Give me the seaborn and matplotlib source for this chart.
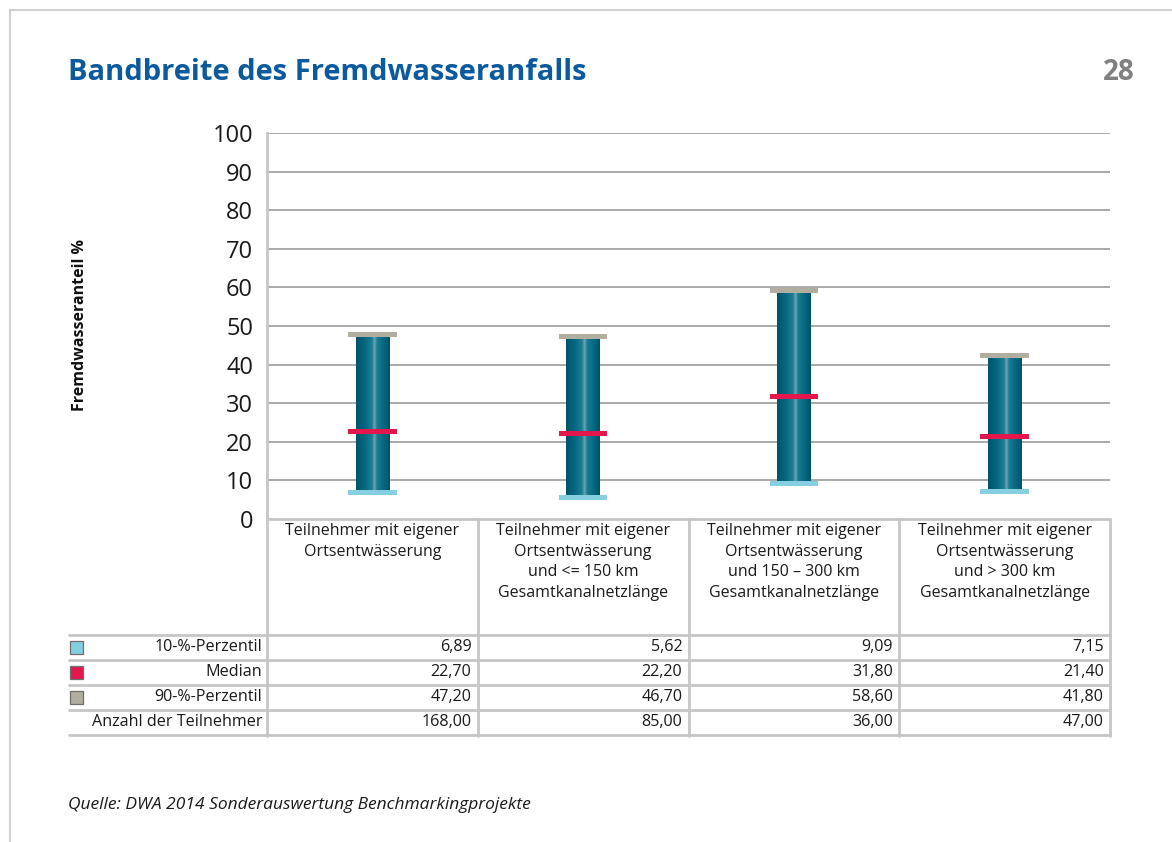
import matplotlib
matplotlib.use("Agg")
from matplotlib import pyplot as plt
from matplotlib.colors import LinearSegmentedColormap
from matplotlib.transforms import blended_transform_factory
import matplotlib.patches as mpatches
import numpy as np
import pandas as pd
import seaborn as sns

# data
groups = ["Teilnehmer mit eigener\nOrtsentwässerung",
          "Teilnehmer mit eigener\nOrtsentwässerung\nund <= 150 km\nGesamtkanalnetzlänge",
          "Teilnehmer mit eigener\nOrtsentwässerung\nund 150 – 300 km\nGesamtkanalnetzlänge",
          "Teilnehmer mit eigener\nOrtsentwässerung\nund > 300 km\nGesamtkanalnetzlänge"]
p10 = [6.89, 5.62, 9.09, 7.15]
median = [22.70, 22.20, 31.80, 21.40]
p90 = [47.20, 46.70, 58.60, 41.80]
anzahl = [168.00, 85.00, 36.00, 47.00]
row_labels = ["10-%-Perzentil", "Median", "90-%-Perzentil", "Anzahl der Teilnehmer"]
yticks = [0, 10, 20, 30, 40, 50, 60, 70, 80, 90, 100]

c_p10 = "#85cfe0"
c_med = "#e4174d"
c_p90 = "#b1ae9f"
title_blue = "#0b5a9e"
grid_c = "#a3a3a3"
line_c = "#c6c6c6"

sns.set_theme(style="white")
plt.rcParams["font.family"] = ["Open Sans", "DejaVu Sans"]

W, H = 1172, 842
fig = plt.figure(figsize=(W / 100, H / 100), dpi=100)

def fx(px):
    return px / W

def fy(py):
    return 1 - py / H

ax = fig.add_axes([fx(267), fy(519), fx(1110) - fx(267), fy(133) - fy(519)])

mark_h = 1.3  # thickness of the marker strips in data units
df = pd.DataFrame({"group": groups,
                   "low": np.array(p10) + mark_h / 2,
                   "span": np.array(p90) - np.array(p10) - mark_h / 2})

sns.barplot(data=df, x="group", y="span", bottom=df["low"], width=0.16,
            color="#005f78", linewidth=0, ax=ax, zorder=3)

# cylinder shading on the bars
cyl = LinearSegmentedColormap.from_list("cyl", [
    (0.0, "#00526c"), (0.25, "#046880"), (0.47, "#1f7d93"), (0.55, "#6aa7b6"),
    (0.62, "#1c7a90"), (0.85, "#02657e"), (1.0, "#005069")])
grad = np.linspace(0, 1, 256).reshape(1, -1)
for patch in list(ax.patches):
    x0, y0 = patch.get_x(), patch.get_y()
    w, h = patch.get_width(), patch.get_height()
    im = ax.imshow(grad, cmap=cyl, aspect="auto", extent=(x0, x0 + w, y0, y0 + h),
                   zorder=4)
    im.set_clip_path(patch)

# percentile / median strips
xs = np.arange(len(groups))
mw = 0.23
ax.bar(xs, mark_h, bottom=np.array(p10) - mark_h / 2, width=mw, color=c_p10, zorder=5, linewidth=0)
ax.bar(xs, mark_h, bottom=np.array(median) - mark_h / 2, width=mw, color=c_med, zorder=5, linewidth=0)
ax.bar(xs, mark_h, bottom=np.array(p90), width=mw, color=c_p90, zorder=5, linewidth=0)

ax.set_xlim(-0.5, len(groups) - 0.5)
ax.set_ylim(0, 100)
ax.set_yticks(yticks)
ax.set_yticklabels([str(t) for t in yticks], fontsize=17, color="#1a1a1a")
ax.tick_params(axis="y", length=0, pad=10)
ax.set_xticks([])
ax.set_xlabel("")
ax.set_ylabel("")
for y in yticks[1:]:
    ax.axhline(y, color=grid_c, lw=1.3, zorder=1)
for s in ["top", "right", "bottom"]:
    ax.spines[s].set_visible(False)
ax.spines["left"].set_color(line_c)
ax.spines["left"].set_linewidth(2)

fig.text(fx(80), fy(325), "Fremdwasseranteil %", rotation=90, ha="center", va="center",
         fontsize=11.5, fontweight="bold", color="#111111")

# table under the chart
tr = blended_transform_factory(ax.transData, fig.transFigure)
col_edges = [-0.5, 0.5, 1.5, 2.5, 3.5]
for xe in col_edges:
    fig.add_artist(plt.Line2D([xe, xe], [fy(519), fy(736)], transform=tr, color=line_c, lw=2))
fig.add_artist(plt.Line2D([fx(267), fx(1110)], [fy(519), fy(519)], color=line_c, lw=2))
for yl in [635, 660, 685, 710, 735]:
    fig.add_artist(plt.Line2D([fx(69), fx(1110)], [fy(yl), fy(yl)], color=line_c, lw=2))

for i, g in enumerate(groups):
    fig.text(xs[i], fy(523), g, transform=tr, ha="center", va="top", fontsize=11.5,
             color="#1a1a1a", linespacing=1.38)

def fmt(v):
    return f"{v:.2f}".replace(".", ",")

rows = [p10, median, p90, anzahl]
row_y = [647, 672, 697, 722]
sq_cols = [c_p10, c_med, c_p90, None]
for r, vals in enumerate(rows):
    yy = fy(row_y[r])
    fig.text(fx(262), yy, row_labels[r], ha="right", va="center", fontsize=11.6, color="#1a1a1a")
    if sq_cols[r] is not None:
        fig.add_artist(mpatches.Rectangle((fx(70), yy - 6.5 / H), 13 / W, 13 / H,
                                          transform=fig.transFigure, facecolor=sq_cols[r],
                                          edgecolor="#6f6f6f", lw=0.9))
    for i, v in enumerate(vals):
        fig.text(col_edges[i + 1] - 0.03, yy, fmt(v), transform=tr, ha="right", va="center",
                 fontsize=11.6, color="#1a1a1a")

# page decorations
fig.text(fx(68), fy(72), "Bandbreite des Fremdwasseranfalls", ha="left", va="center",
         fontsize=21, fontweight="bold", color=title_blue,
         family=["Liberation Sans Narrow", "Open Sans", "DejaVu Sans"])
fig.text(fx(1135), fy(72), "28", ha="right", va="center", fontsize=20, fontweight="bold",
         color="#808080")
fig.text(fx(68), fy(805), "Quelle: DWA 2014 Sonderauswertung Benchmarkingprojekte", ha="left",
         va="center", fontsize=12.5, style="italic", color="#1a1a1a")
fig.add_artist(plt.Line2D([fx(10), 1], [fy(10), fy(10)], color="#d0d0d0", lw=1.5))
fig.add_artist(plt.Line2D([fx(10), fx(10)], [0, fy(10)], color="#d0d0d0", lw=1.5))

fig.savefig("out.png", dpi=100)
